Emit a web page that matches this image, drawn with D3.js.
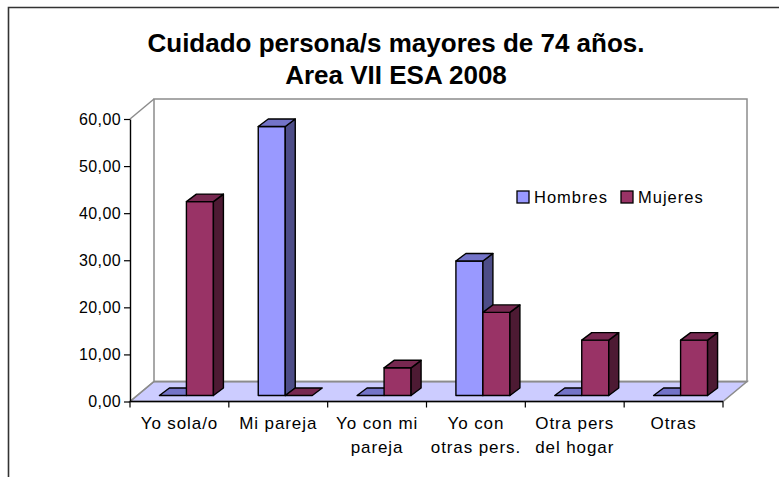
<!DOCTYPE html>
<html lang="es">
<head>
<meta charset="utf-8">
<title>Cuidado persona/s mayores de 74 años</title>
<script src="https://d3js.org/d3.v7.min.js"></script>
<style>
  body { margin: 0; background: #fff; }
  svg { display: block; font-family: "Liberation Sans", Arial, sans-serif; }
</style>
</head>
<body>
<script>

// data
var categories = ["Yo sola/o", "Mi pareja", "Yo con mi pareja", "Yo con otras pers.", "Otra pers del hogar", "Otras"];
var labelLines = [["Yo sola/o"], ["Mi pareja"], ["Yo con mi", "pareja"], ["Yo con", "otras pers."], ["Otra pers", "del hogar"], ["Otras"]];
var hombres = [0, 57.14, 0, 28.57, 0, 0];
var mujeres = [41.18, 0, 5.88, 17.65, 11.76, 11.76];
var seriesNames = ["Hombres", "Mujeres"];
var yTicks = [0, 10, 20, 30, 40, 50, 60];

var width = 779, height = 477;

// colours: front, top, side
var colors = [
  { front: "#9999ff", top: "#7373c8", side: "#4d4d88" },
  { front: "#993366", top: "#772850", side: "#4d1a33" }
];

var svg = d3.select("body").append("svg")
  .attr("width", width)
  .attr("height", height);

svg.append("rect").attr("width", width).attr("height", height).attr("fill", "#fff");

// outer frame (cut off at right and bottom)
svg.append("path")
  .attr("d", "M8.5," + height + "V7.5H" + width)
  .attr("fill", "none")
  .attr("stroke", "#333")
  .attr("stroke-width", 1.6);

// title
var title = svg.append("text")
  .attr("text-anchor", "middle")
  .attr("font-weight", "bold")
  .attr("font-size", 26)
  .attr("fill", "#000");
title.append("tspan").attr("x", 396).attr("y", 52).text("Cuidado persona/s mayores de 74 años.");
title.append("tspan").attr("x", 396).attr("y", 84).text("Area VII ESA 2008");

// scales
var x = d3.scaleBand().domain(categories).range([130, 723]);
var y = d3.scaleLinear().domain([0, 60]).range([401.5, 119]);

var depth = { dx: 24, dy: -20 };     // wall depth
var barOff = { dx: 7, dy: -6 };      // bar front plane offset
var barDepth = { dx: 10, dy: -7.5 }; // bar thickness
var barW = 27;

var x0 = x.range()[0], x1 = x.range()[1];
var yb = y(0), yt = y(60);

// floor
svg.append("path")
  .attr("d", "M" + x0 + "," + yb + "L" + x1 + "," + yb +
    "L" + (x1 + depth.dx) + "," + (yb + depth.dy) + "L" + (x0 + depth.dx) + "," + (yb + depth.dy) + "Z")
  .attr("fill", "#ccccff")
  .attr("stroke", "#8c8c8c")
  .attr("stroke-width", 1.5);

// back wall
svg.append("rect")
  .attr("x", x0 + depth.dx).attr("y", yt + depth.dy)
  .attr("width", x1 - x0).attr("height", yb - yt)
  .attr("fill", "#fff")
  .attr("stroke", "#8c8c8c")
  .attr("stroke-width", 1.5);

// left wall top edge
svg.append("path")
  .attr("d", "M" + x0 + "," + yt + "L" + (x0 + depth.dx) + "," + (yt + depth.dy))
  .attr("stroke", "#8c8c8c")
  .attr("stroke-width", 1.5);

// floor edges over the wall
svg.append("path")
  .attr("d", "M" + (x0 + depth.dx) + "," + (yb + depth.dy) + "L" + (x1 + depth.dx) + "," + (yb + depth.dy))
  .attr("stroke", "#8c8c8c")
  .attr("stroke-width", 1.5);
svg.append("path")
  .attr("d", "M" + x0 + "," + yb + "L" + (x0 + depth.dx) + "," + (yb + depth.dy))
  .attr("stroke", "#8c8c8c")
  .attr("stroke-width", 1.5);

// bars
var bars = svg.append("g").attr("stroke", "#000").attr("stroke-width", 1.4).attr("stroke-linejoin", "round");

categories.forEach(function(c, i) {
  var vals = [hombres[i], mujeres[i]];
  var cx = x(c) + x.bandwidth() / 2;
  vals.forEach(function(v, s) {
    var left = cx - barW + s * barW + barOff.dx;
    var right = left + barW;
    var bottom = y(0) + barOff.dy;
    var top = y(v) + barOff.dy;
    var col = colors[s];
    if (v > 0) {
      bars.append("path")
        .attr("d", "M" + left + "," + top + "H" + right + "V" + bottom + "H" + left + "Z")
        .attr("fill", col.front);
      bars.append("path")
        .attr("d", "M" + right + "," + top + "L" + (right + barDepth.dx) + "," + (top + barDepth.dy) +
          "V" + (bottom + barDepth.dy) + "L" + right + "," + bottom + "Z")
        .attr("fill", col.side);
    }
    bars.append("path")
      .attr("d", "M" + left + "," + top + "L" + (left + barDepth.dx) + "," + (top + barDepth.dy) +
        "H" + (right + barDepth.dx) + "L" + right + "," + top + "Z")
      .attr("fill", col.top);
  });
});

// y axis
var locale = d3.formatLocale({ decimal: ",", thousands: ".", grouping: [3], currency: ["", "€"] });
var fmt = locale.format(".2f");

var yAxis = svg.append("g")
  .attr("transform", "translate(" + x0 + ",0)")
  .call(d3.axisLeft(y).tickValues(yTicks).tickFormat(fmt).tickSize(6).tickSizeOuter(0).tickPadding(3));
yAxis.select(".domain").attr("stroke", "#000").attr("stroke-width", 1.4);
yAxis.selectAll(".tick line").attr("stroke", "#000").attr("stroke-width", 1.2);
yAxis.selectAll(".tick text")
  .attr("font-size", 16)
  .attr("font-family", "Liberation Sans, Arial, sans-serif")
  .attr("letter-spacing", 0.4)
  .attr("fill", "#000");

// x axis
var xAxis = svg.append("g");
xAxis.append("path")
  .attr("d", "M" + x0 + "," + yb + "H" + x1)
  .attr("stroke", "#000").attr("stroke-width", 1.4);
var bounds = categories.map(function(c) { return x(c); }).concat([x1]);
xAxis.selectAll("line.tick").data(bounds).enter().append("line")
  .attr("x1", function(d) { return d; }).attr("x2", function(d) { return d; })
  .attr("y1", yb).attr("y2", yb + 6)
  .attr("stroke", "#000").attr("stroke-width", 1.2);

var xl = xAxis.selectAll("text.lab").data(categories).enter().append("text")
  .attr("text-anchor", "middle")
  .attr("font-size", 17)
  .attr("letter-spacing", 0.9)
  .attr("fill", "#000");
xl.each(function(c, i) {
  var t = d3.select(this);
  var cx = x(c) + x.bandwidth() / 2;
  labelLines[i].forEach(function(line, j) {
    t.append("tspan").attr("x", cx).attr("y", 429 + j * 23.5).text(line);
  });
});

// legend
var legend = svg.append("g");
var legX = [517, 621];
seriesNames.forEach(function(n, s) {
  legend.append("rect")
    .attr("x", legX[s]).attr("y", 191)
    .attr("width", 12).attr("height", 12)
    .attr("fill", colors[s].front)
    .attr("stroke", "#000").attr("stroke-width", 1.3);
  legend.append("text")
    .attr("x", legX[s] + 17).attr("y", 202.5)
    .attr("font-size", 16.5)
    .attr("letter-spacing", 1)
    .attr("fill", "#000")
    .text(n);
});

</script>
</body>
</html>
